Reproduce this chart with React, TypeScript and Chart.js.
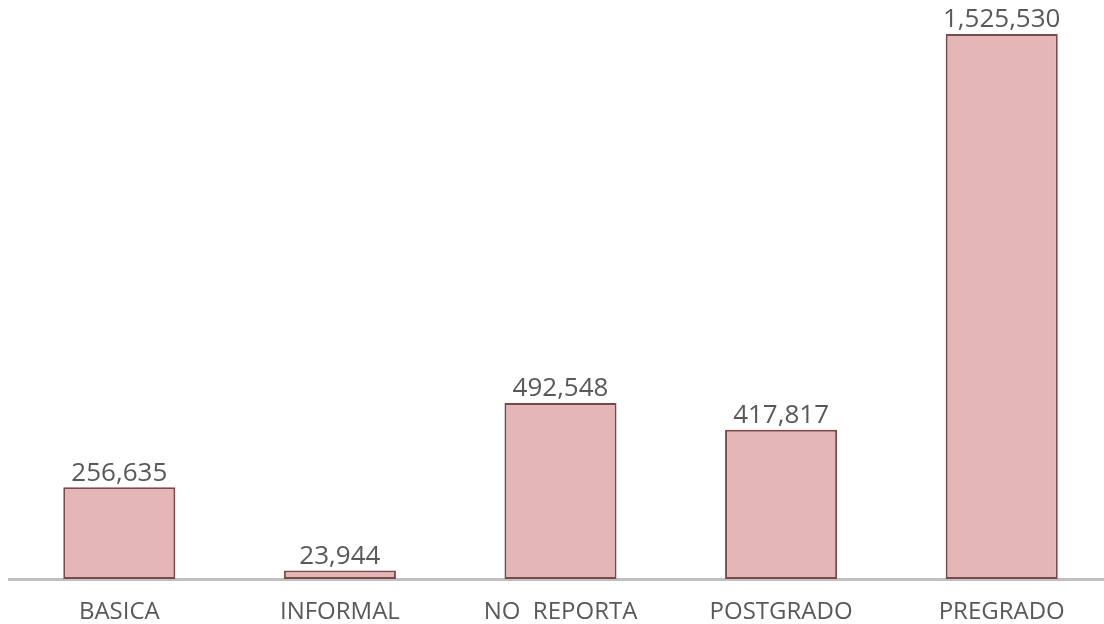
import React, { useEffect, useRef } from "react";
import { Chart, registerables } from "chart.js";

Chart.register(...registerables);

const categories = ["BASICA", "INFORMAL", "NO  REPORTA", "POSTGRADO", "PREGRADO"];
const values = [256635, 23944, 492548, 417817, 1525530];

const valueLabelPlugin = {
  id: "valueLabels",
  afterDatasetsDraw(chart: any) {
    const ctx = chart.ctx;
    const meta = chart.getDatasetMeta(0);
    ctx.save();
    ctx.font = "26px 'Open Sans'";
    ctx.fillStyle = "#595959";
    ctx.textAlign = "center";
    ctx.textBaseline = "bottom";
    meta.data.forEach((bar: any, i: number) => {
      ctx.fillText(values[i].toLocaleString("en-US"), bar.x, bar.y - 1);
    });
    ctx.restore();
  },
};

export default function App() {
  const ref = useRef<HTMLCanvasElement>(null);
  useEffect(() => {
    if (!ref.current) return;
    const chart = new Chart(ref.current, {
      type: "bar",
      data: {
        labels: categories,
        datasets: [
          {
            data: values,
            backgroundColor: "#E5B6B6",
            borderColor: "#7A4949",
            borderWidth: 2,
            borderSkipped: false,
            categoryPercentage: 1,
            barPercentage: 0.508,
          },
        ],
      },
      options: {
        responsive: false,
        animation: false,
        layout: { padding: { left: 9, right: 0, top: 34, bottom: 0 } },
        plugins: { legend: { display: false }, tooltip: { enabled: false } },
        scales: {
          x: {
            grid: { display: false },
            border: { display: true, color: "#BFBFBF", width: 3 },
            ticks: {
              color: "#595959",
              font: { family: "'Open Sans'", size: 24 },
              padding: 11,
              maxRotation: 0,
              autoSkip: false,
            },
            afterFit: (axis: any) => {
              axis.height = 45;
            },
          },
          y: {
            display: false,
            min: 0,
            max: 1525530,
          },
        },
      },
      plugins: [valueLabelPlugin],
    });
    return () => chart.destroy();
  }, []);
  return (
    <div style={{ position: "fixed", left: 0, top: 0, width: 1104, height: 624, overflow: "hidden", background: "#fff" }}>
      <canvas ref={ref} width={1112} height={624} style={{ width: 1112, height: 624, display: "block" }} />
    </div>
  );
}
